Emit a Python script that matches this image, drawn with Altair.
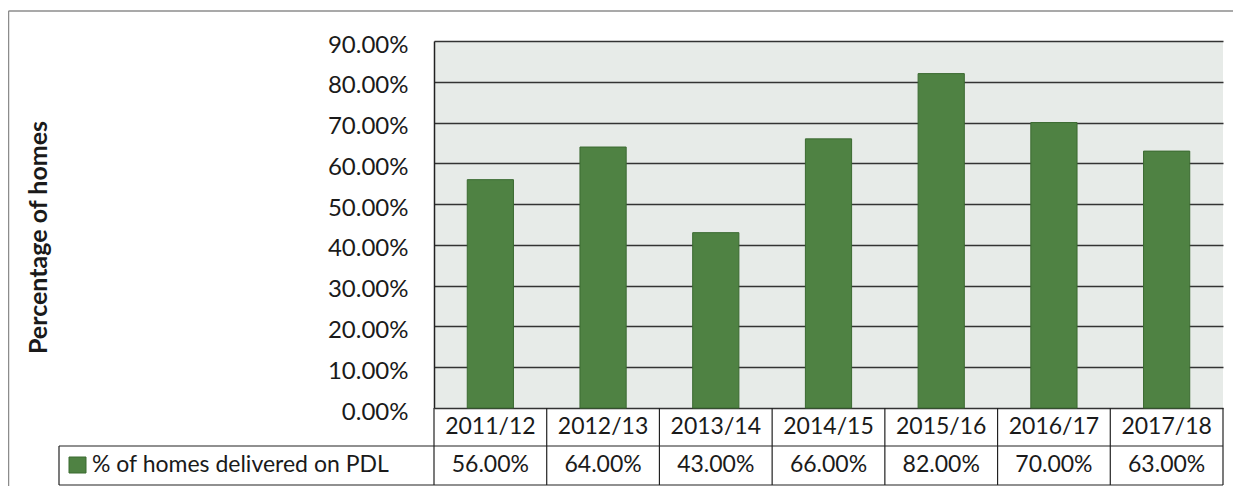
import altair as alt
import pandas as pd

categories = ["2011/12", "2012/13", "2013/14", "2014/15", "2015/16", "2016/17", "2017/18"]
values_pct = [56, 64, 43, 66, 82, 70, 63]
y_ticks = [0, 0.1, 0.2, 0.3, 0.4, 0.5, 0.6, 0.7, 0.8, 0.9]
series_name = "% of homes delivered on PDL"
y_title = "Percentage of homes"

FONT = "Lato"
FS = 24
FS_TABLE = 23
W, H = 789, 367
BAR = "#4f8243"
BAR_STROKE = "#3b6a31"
LINE = "#222222"
TXT = "#1a1a1a"

df = pd.DataFrame({
    "cat": categories,
    "val": [v / 100 for v in values_pct],
    "label": [f"{v:.2f}%" for v in values_pct],
})
one = pd.DataFrame({"name": [series_name]})

xenc = alt.X("cat:N", sort=categories, axis=None,
             scale=alt.Scale(paddingInner=0, paddingOuter=0))

bars = alt.Chart(df).mark_bar(
    width={"band": 0.41}, color=BAR, stroke=BAR_STROKE, strokeWidth=1
).encode(
    x=xenc,
    y=alt.Y("val:Q", scale=alt.Scale(domain=[0, 0.9]),
            axis=alt.Axis(values=y_ticks, format=".2%", ticks=False,
                          domain=True, domainColor=LINE, domainWidth=1.5,
                          grid=True, gridColor="#333333", gridWidth=1.5,
                          labelFont=FONT, labelFontSize=FS, labelColor=TXT,
                          labelPadding=26, labelOffset=4,
                          title=y_title, titleFont=FONT, titleFontSize=25,
                          titleFontWeight="bold", titleColor=TXT,
                          titleAngle=-90, titleAlign="center", titleBaseline="middle",
                          titleX=-396, titleY=196)),
)

cat_text = alt.Chart(df).mark_text(
    font=FONT, fontSize=FS_TABLE, color=TXT, baseline="middle"
).encode(x=xenc, y=alt.value(386), text="cat:N")

val_text = alt.Chart(df).mark_text(
    font=FONT, fontSize=FS_TABLE, color=TXT, baseline="middle"
).encode(x=xenc, y=alt.value(424), text="label:N")

vlines = alt.Chart(df).mark_rule(color=LINE, strokeWidth=1.2).encode(
    x=alt.X("cat:N", sort=categories, axis=None, bandPosition=0,
            scale=alt.Scale(paddingInner=0, paddingOuter=0)),
    y=alt.value(H), y2=alt.value(444))

base1 = alt.Chart(one)
right_line = base1.mark_rule(color=LINE, strokeWidth=1.2).encode(
    x=alt.value(W), y=alt.value(H), y2=alt.value(444))
mid_line = base1.mark_rule(color=LINE, strokeWidth=1.2).encode(
    x=alt.value(-375), x2=alt.value(W), y=alt.value(405))
bot_line = base1.mark_rule(color=LINE, strokeWidth=1.2).encode(
    x=alt.value(-375), x2=alt.value(W), y=alt.value(444))
leg_left = base1.mark_rule(color=LINE, strokeWidth=1.2).encode(
    x=alt.value(-375), y=alt.value(405), y2=alt.value(444))
swatch = base1.mark_rect(color=BAR, stroke=BAR_STROKE, strokeWidth=1).encode(
    x=alt.value(-365), x2=alt.value(-348), y=alt.value(416), y2=alt.value(432))
leg_text = base1.mark_text(
    font=FONT, fontSize=FS_TABLE, color=TXT, align="left", baseline="middle"
).encode(x=alt.value(-342), y=alt.value(424), text="name:N")

frame_top = base1.mark_rule(color="#8c8c8c", strokeWidth=1.5).encode(
    x=alt.value(-425.5), x2=alt.value(830), y=alt.value(-30))
frame_left = base1.mark_rule(color="#8c8c8c", strokeWidth=1.5).encode(
    x=alt.value(-425.5), y=alt.value(-30), y2=alt.value(460))

chart = alt.layer(
    bars, cat_text, val_text, vlines, right_line, mid_line, bot_line,
    leg_left, swatch, leg_text, frame_top, frame_left
).properties(
    width=W, height=H,
    autosize=alt.AutoSizeParams(type="none"),
    padding={"left": 426, "top": 33, "right": 10, "bottom": 78},
    background="white",
).configure_view(
    fill="#e7ebe8", stroke=None
)

chart.save("out.html", embed_options={"renderer": "svg", "actions": False})
